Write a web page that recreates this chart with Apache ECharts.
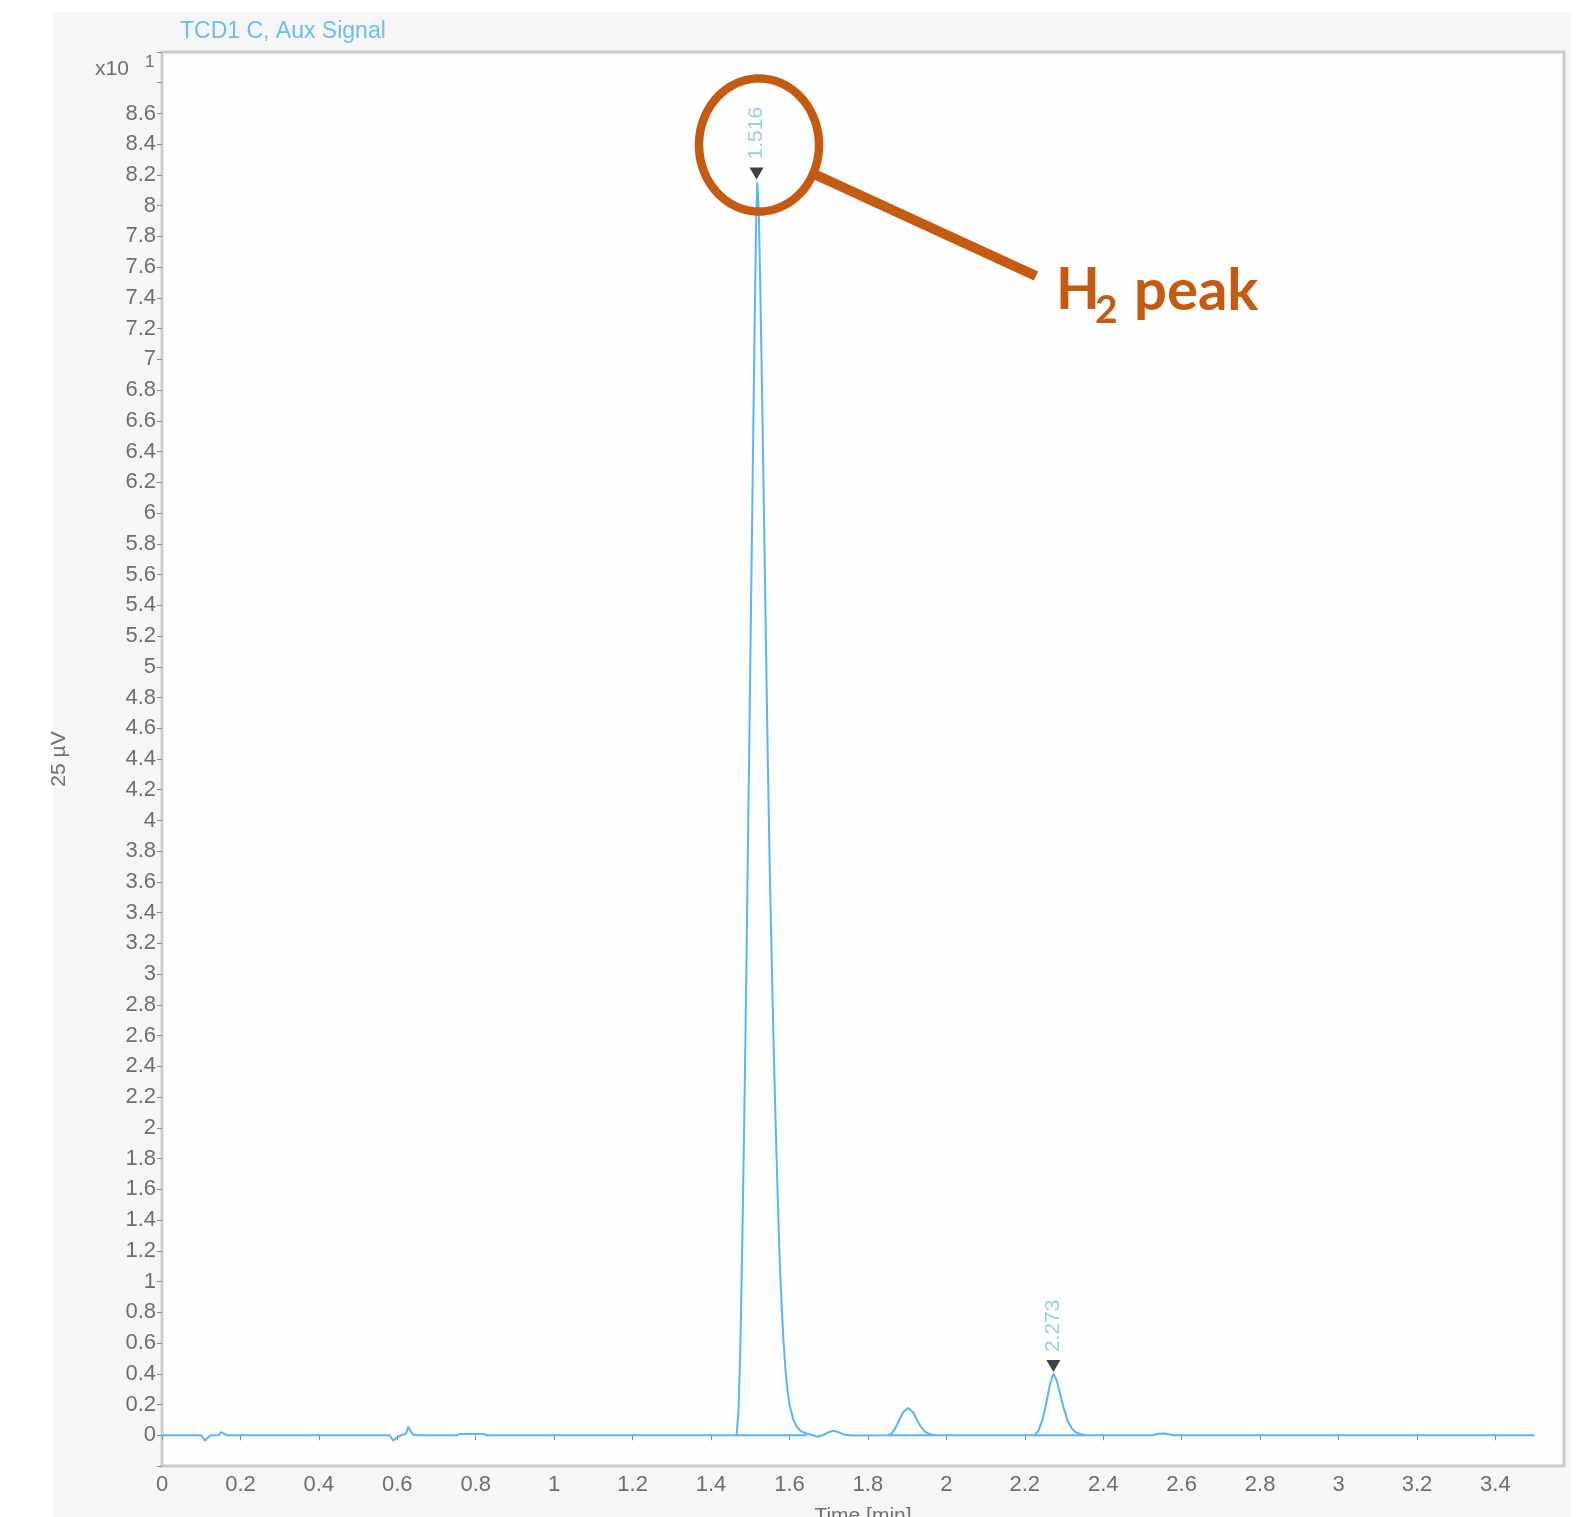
<!DOCTYPE html>
<html>
<head>
<meta charset="utf-8">
<script src="https://cdn.jsdelivr.net/npm/echarts@6/dist/echarts.min.js"></script>
<style>
html,body{margin:0;padding:0;background:#fff;}
#chart{width:1589px;height:1517px;}
</style>
</head>
<body>
<div id="chart"></div>
<script>
// ---- data ----
const timeMin = [0.000,0.100,0.110,0.115,0.125,0.145,0.150,0.158,0.165,0.580,0.590,0.598,0.610,0.622,0.628,0.633,0.640,0.650,0.750,0.760,0.820,0.830,
  1.465,1.470,1.475,1.480,1.485,1.490,1.495,1.500,1.505,1.510,1.515,1.518,1.522,1.526,1.530,1.535,1.540,1.545,1.550,1.555,1.560,1.565,1.570,1.575,1.580,1.585,1.590,1.595,1.600,1.610,1.620,1.630,1.645,1.660,1.672,1.685,1.700,1.712,1.725,1.740,1.760,
  1.850,1.860,1.870,1.880,1.890,1.903,1.915,1.925,1.935,1.945,1.955,1.970,
  2.225,2.235,2.245,2.255,2.265,2.273,2.281,2.290,2.300,2.310,2.320,2.330,2.345,2.355,
  2.525,2.540,2.555,2.570,2.580,3.085,3.090,3.095,3.295,3.300,3.305,3.500];
const signal = [0,0,-0.035,-0.02,0,0,0.02,0.01,0,0,-0.035,-0.015,0,0.01,0.055,0.03,0.005,0,0,0.008,0.008,0,
  0,0.15,0.6,1.3,2.1,3.0,4.0,5.0,6.0,7.0,7.9,8.15,7.95,7.4,6.8,6.0,5.15,4.35,3.65,3.05,2.5,2.0,1.55,1.15,0.85,0.6,0.42,0.29,0.2,0.1,0.05,0.025,0.01,0,-0.01,0,0.02,0.03,0.02,0.003,-0.002,
  0,0.01,0.045,0.1,0.15,0.178,0.15,0.1,0.055,0.025,0.01,0,
  0,0.03,0.1,0.21,0.34,0.40,0.36,0.27,0.17,0.09,0.045,0.02,0.005,0,
  0,0.01,0.012,0.005,0,0,-0.006,0,0,-0.006,0,0];
// integration baselines drawn under the peaks
const baseStart = [1.466, 1.850, 2.225];
const baseEnd   = [1.645, 1.970, 2.355];
// detected peak markers
const peakTimes  = [1.516, 2.273];
const peakMarks  = [8.21, 0.45];
const peakLabels = ['1.516', '2.273'];
// axis settings
const xTicks = {min: 0, max: 3.575, step: 0.2, lastLabel: 3.4};
const yTicks = {min: -0.2, max: 9.0, step: 0.2, lastLabel: 8.6};

const chart = echarts.init(document.getElementById('chart'), null, {renderer: 'canvas'});
const lineColor = '#5ab5f2';
const labelColor = '#6e6e6e';
const font = 'Liberation Sans, Arial, sans-serif';
const orange = '#c55a11';

const series = [{
  type: 'line', data: timeMin.map((t, i) => [t, signal[i]]),
  showSymbol: false, symbol: 'none', lineStyle: {color: lineColor, width: 2}, z: 3
}];
baseStart.forEach((s, i) => series.push({
  type: 'line', data: [[s, 0], [baseEnd[i], 0]], showSymbol: false, symbol: 'none',
  lineStyle: {color: lineColor, width: 2}, z: 2
}));
series.push({
  type: 'scatter', data: peakTimes.map((t, i) => [t, peakMarks[i]]),
  symbol: 'triangle', symbolRotate: 180, symbolSize: [14, 12],
  itemStyle: {color: '#111'}, z: 5,
  label: {show: true, formatter: p => peakLabels[p.dataIndex], rotate: 90, position: 'top',
    align: 'left', verticalAlign: 'middle', distance: 8, color: '#7cc3f3', fontSize: 21, fontFamily: font}
});

// ellipse annotation points
const ell = [];
for (let k = 0; k < 120; k++) {
  const a = k / 120 * Math.PI * 2;
  ell.push([759 + 60 * Math.cos(a), 145 + 66.5 * Math.sin(a)]);
}

const option = {
  animation: false,
  backgroundColor: '#f6f6f7',
  grid: {left: 162, right: 25, top: 52, bottom: 51, show: true, backgroundColor: '#fdfdfd',
    borderColor: '#c9cbd2', borderWidth: 3, containLabel: false, outerBoundsMode: 'none'},
  xAxis: {
    type: 'value', min: xTicks.min, max: xTicks.max, interval: xTicks.step,
    axisLine: {show: false}, splitLine: {show: false},
    axisTick: {show: true, length: 5, lineStyle: {color: '#8a8a8a', width: 1}},
    axisLabel: {margin: 8, fontSize: 22, color: labelColor, fontFamily: font, showMaxLabel: false,
      formatter: v => { const r = Math.round(v * 10) / 10; return (Math.abs(v - r) < 1e-6 && r <= xTicks.lastLabel + 1e-6) ? String(r) : ''; }},
    name: 'Time [min]', nameLocation: 'middle', nameGap: 40,
    nameTextStyle: {fontSize: 21, color: labelColor, fontFamily: font}
  },
  yAxis: {
    type: 'value', min: yTicks.min, max: yTicks.max, interval: yTicks.step,
    axisLine: {show: false}, splitLine: {show: false},
    axisTick: {show: true, length: 5, lineStyle: {color: '#8a8a8a', width: 1}},
    axisLabel: {margin: 6, fontSize: 22, color: labelColor, fontFamily: font,
      formatter: v => { const r = Math.round(v * 10) / 10; return (r < 0 || r > yTicks.lastLabel + 1e-6) ? '' : String(r); }},
    name: '25 µV', nameLocation: 'middle', nameGap: 92, nameRotate: 90,
    nameTextStyle: {fontSize: 21, color: labelColor, fontFamily: font}
  },
  graphic: [
    {type: 'rect', shape: {x: 0, y: 0, width: 53, height: 1517}, style: {fill: '#ffffff'}, silent: true},
    {type: 'rect', shape: {x: 0, y: 0, width: 1589, height: 12}, style: {fill: '#ffffff'}, silent: true},
    {type: 'rect', shape: {x: 1571, y: 0, width: 18, height: 1517}, style: {fill: '#ffffff'}, silent: true},
    {type: 'text', x: 180, y: 32, style: {text: 'TCD1 C, Aux Signal', fill: '#6dbcf2', fontSize: 23, fontFamily: font, verticalAlign: 'middle'}},
    {type: 'text', x: 95, y: 69, style: {text: 'x10', fill: labelColor, fontSize: 21, fontFamily: font, verticalAlign: 'middle'}},
    {type: 'text', x: 145, y: 62, style: {text: '1', fill: labelColor, fontSize: 17, fontFamily: font, verticalAlign: 'middle'}},
    {type: 'polygon', shape: {points: ell}, style: {fill: 'none', stroke: orange, lineWidth: 8.5}, z: 10},
    {type: 'line', shape: {x1: 814, y1: 174, x2: 1036, y2: 276}, style: {stroke: orange, lineWidth: 10, lineCap: 'butt'}, z: 10},
    {type: 'text', x: 1056, y: 291, style: {text: 'H', fill: orange, fontSize: 57, fontWeight: 'bold', fontFamily: 'Lato, sans-serif', verticalAlign: 'middle'}, z: 10},
    {type: 'text', x: 1095, y: 310, style: {text: '2', fill: orange, fontSize: 39, fontWeight: 'bold', fontFamily: 'Lato, sans-serif', verticalAlign: 'middle'}, z: 10},
    {type: 'text', x: 1134, y: 291, style: {text: 'peak', fill: orange, fontSize: 58, fontWeight: 'bold', fontFamily: 'Lato, sans-serif', verticalAlign: 'middle'}, z: 10}
  ],
  series: series
};
chart.setOption(option);
</script>
</body>
</html>
